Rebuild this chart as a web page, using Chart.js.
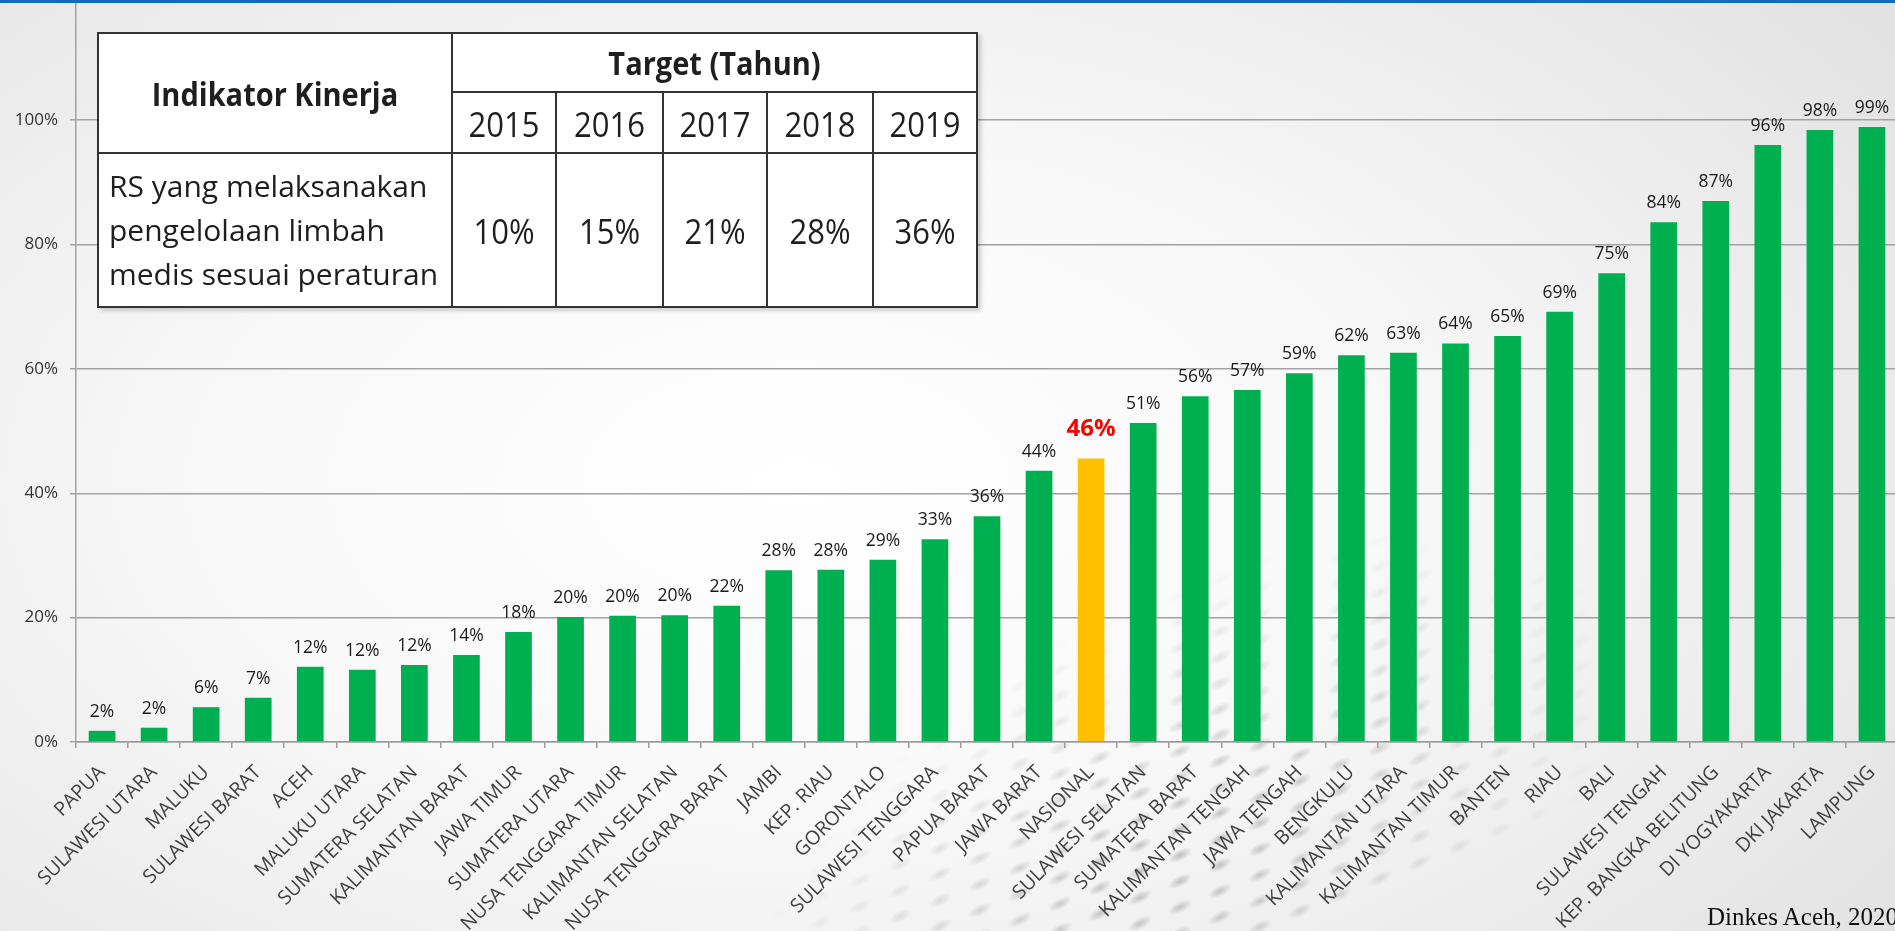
<!DOCTYPE html>
<html>
<head>
<meta charset="utf-8">
<script src="https://cdn.jsdelivr.net/npm/chart.js@4.4.1/dist/chart.umd.min.js"></script>
<style>
  html, body { margin:0; padding:0; width:1895px; height:931px; overflow:hidden; }
  body {
    position:relative;
    font-family:'Open Sans', sans-serif;
    background:
      radial-gradient(ellipse 78% 90% at 42% 52%, #ffffff 0%, #f8f8f8 40%, #ebebeb 72%, #dedede 100%);
  }
  #dots {
    position:absolute; left:760px; top:420px; width:1000px; height:520px; z-index:0;
    background-image: radial-gradient(ellipse 12px 6px at 50% 50%, rgba(110,110,110,0.42) 0%, rgba(110,110,110,0.18) 60%, rgba(110,110,110,0) 100%);
    background-size: 40px 26px;
    transform: skewY(-22deg);
    -webkit-mask-image: radial-gradient(ellipse 45% 55% at 42% 78%, rgba(0,0,0,1) 0%, rgba(0,0,0,0.6) 45%, rgba(0,0,0,0) 100%);
            mask-image: radial-gradient(ellipse 45% 55% at 42% 78%, rgba(0,0,0,1) 0%, rgba(0,0,0,0.6) 45%, rgba(0,0,0,0) 100%);
  }
  #topbar { position:absolute; left:0; top:0; width:1895px; height:3px; background:#0f6cbd; z-index:5; }
  #chartWrap { position:absolute; left:0; top:0; width:1898px; height:931px; z-index:1; }
  #target {
    position:absolute; left:97px; top:32px; z-index:4;
    border-collapse:collapse; table-layout:fixed; background:#fff;
    box-shadow:3px 3px 4px rgba(0,0,0,0.18);
    color:#1e1e1e;
  }
  #target td, #target th { border:2px solid #333; padding:0; text-align:center; vertical-align:middle; white-space:nowrap; }
  #target th { font-weight:700; font-size:29px; }
  #target th span { display:inline-block; transform:scaleY(1.08); }
  #target .yr, #target .num { font-size:31px; font-weight:400; }
  #target .yr span, #target .num span { display:inline-block; transform:scaleY(1.13); }
  #target .desc { text-align:left; font-size:30px; line-height:44px; padding-left:10px; }
  #source { position:absolute; right:-3px; top:904px; font-family:'Liberation Serif', 'Times New Roman', serif; font-size:25px; line-height:25px; color:#111; z-index:4; }
</style>
</head>
<body>
<div id="dots"></div>
<div id="topbar"></div>
<div id="chartWrap"><canvas id="c" width="1898" height="931"></canvas></div>

<table id="target">
  <colgroup>
    <col style="width:354px"><col style="width:104px"><col style="width:107px"><col style="width:104px"><col style="width:106px"><col style="width:104px">
  </colgroup>
  <tr style="height:59px"><th rowspan="2"><span>Indikator Kinerja</span></th><th colspan="5"><span>Target (Tahun)</span></th></tr>
  <tr style="height:61px" id="yearRow"></tr>
  <tr style="height:154px" id="valRow"><td class="desc">RS yang melaksanakan<br>pengelolaan limbah<br>medis sesuai peraturan</td></tr>
</table>

<div id="source">Dinkes Aceh, 2020</div>

<script>
// ---------- data ----------
const categories = [
  'PAPUA','SULAWESI UTARA','MALUKU','SULAWESI BARAT','ACEH','MALUKU UTARA','SUMATERA SELATAN',
  'KALIMANTAN BARAT','JAWA TIMUR','SUMATERA UTARA','NUSA TENGGARA TIMUR','KALIMANTAN SELATAN',
  'NUSA TENGGARA BARAT','JAMBI','KEP. RIAU','GORONTALO','SULAWESI TENGGARA','PAPUA BARAT',
  'JAWA BARAT','NASIONAL','SULAWESI SELATAN','SUMATERA BARAT','KALIMANTAN TENGAH','JAWA TENGAH',
  'BENGKULU','KALIMANTAN UTARA','KALIMANTAN TIMUR','BANTEN','RIAU','BALI','SULAWESI TENGAH',
  'KEP. BANGKA BELITUNG','DI YOGYAKARTA','DKI JAKARTA','LAMPUNG'
];
const values = [
  1.8, 2.3, 5.6, 7.1, 12.1, 11.6, 12.4,
  14.0, 17.7, 20.1, 20.3, 20.4,
  21.9, 27.6, 27.7, 29.3, 32.6, 36.3,
  43.6, 45.6, 51.3, 55.6, 56.6, 59.3,
  62.2, 62.6, 64.1, 65.3, 69.2, 75.4, 83.6,
  87.0, 96.0, 98.4, 98.9
];
const highlightCategory = 'NASIONAL';
const yTickValues = [0, 20, 40, 60, 80, 100];

const targetYears = ['2015','2016','2017','2018','2019'];
const targetValues = ['10%','15%','21%','28%','36%'];

// ---------- table ----------
function addCells(rowId, cls, items) {
  const row = document.getElementById(rowId);
  items.forEach(t => {
    const td = document.createElement('td'); td.className = cls;
    const sp = document.createElement('span'); sp.textContent = t;
    td.appendChild(sp); row.appendChild(td);
  });
}
addCells('yearRow', 'yr', targetYears);
addCells('valRow', 'num', targetValues);

// ---------- chart ----------
const GREEN = '#00b050', YELLOW = '#ffc000';
const barColors = categories.map(c => c === highlightCategory ? YELLOW : GREEN);

const valueLabels = {
  id: 'valueLabels',
  afterDatasetsDraw(chart) {
    const ctx = chart.ctx;
    const meta = chart.getDatasetMeta(0);
    meta.data.forEach((bar, i) => {
      const hi = categories[i] === highlightCategory;
      ctx.save();
      ctx.font = hi ? 'bold 24px "Open Sans"' : '17.5px "Open Sans"';
      ctx.fillStyle = hi ? '#ff0000' : '#1a1a1a';
      ctx.textAlign = 'center';
      ctx.textBaseline = 'alphabetic';
      ctx.fillText(Math.round(values[i]) + '%', bar.x, bar.y - (hi ? 22 : 14));
      ctx.restore();
    });
  }
};

function build() {
  new Chart(document.getElementById('c'), {
    type: 'bar',
    data: {
      labels: categories,
      datasets: [{
        data: values,
        backgroundColor: barColors,
        borderWidth: 0,
        barPercentage: 0.513,
        categoryPercentage: 1.0
      }]
    },
    options: {
      responsive: false,
      animation: false,
      layout: { padding: { top: 2, left: 0, right: 0, bottom: 0 } },
      plugins: { legend: { display: false }, tooltip: { enabled: false } },
      scales: {
        x: {
          grid: { offset: true, drawOnChartArea: false, drawTicks: true, tickLength: 6, color: '#9c9c9c', lineWidth: 1.5 },
          border: { color: '#9c9c9c', width: 1.5 },
          ticks: { autoSkip: false, maxRotation: 45, minRotation: 45, padding: 13,
                   font: { family: 'Open Sans', size: 19.5 }, color: '#404040' },
          afterFit(s) { s.height = 931 - 742; s.paddingLeft = 0; s.paddingRight = 0; }
        },
        y: {
          min: 0, max: 119,
          afterBuildTicks(s) { s.ticks = yTickValues.map(v => ({ value: v })); },
          ticks: { callback: v => v + '%', padding: 12,
                   font: { family: 'Open Sans', size: 17 }, color: '#333333' },
          grid: { color: '#a2a2a2', lineWidth: 1.5, tickLength: 6 },
          border: { color: '#a2a2a2', width: 1.5 },
          afterFit(s) { s.width = 76; s.paddingTop = 0; s.paddingBottom = 0; }
        }
      }
    },
    plugins: [valueLabels]
  });
}

Promise.all([
  document.fonts.load('17px "Open Sans"'),
  document.fonts.load('bold 24px "Open Sans"'),
  document.fonts.load('18px "Open Sans"')
]).then(build, build);
</script>
</body>
</html>
